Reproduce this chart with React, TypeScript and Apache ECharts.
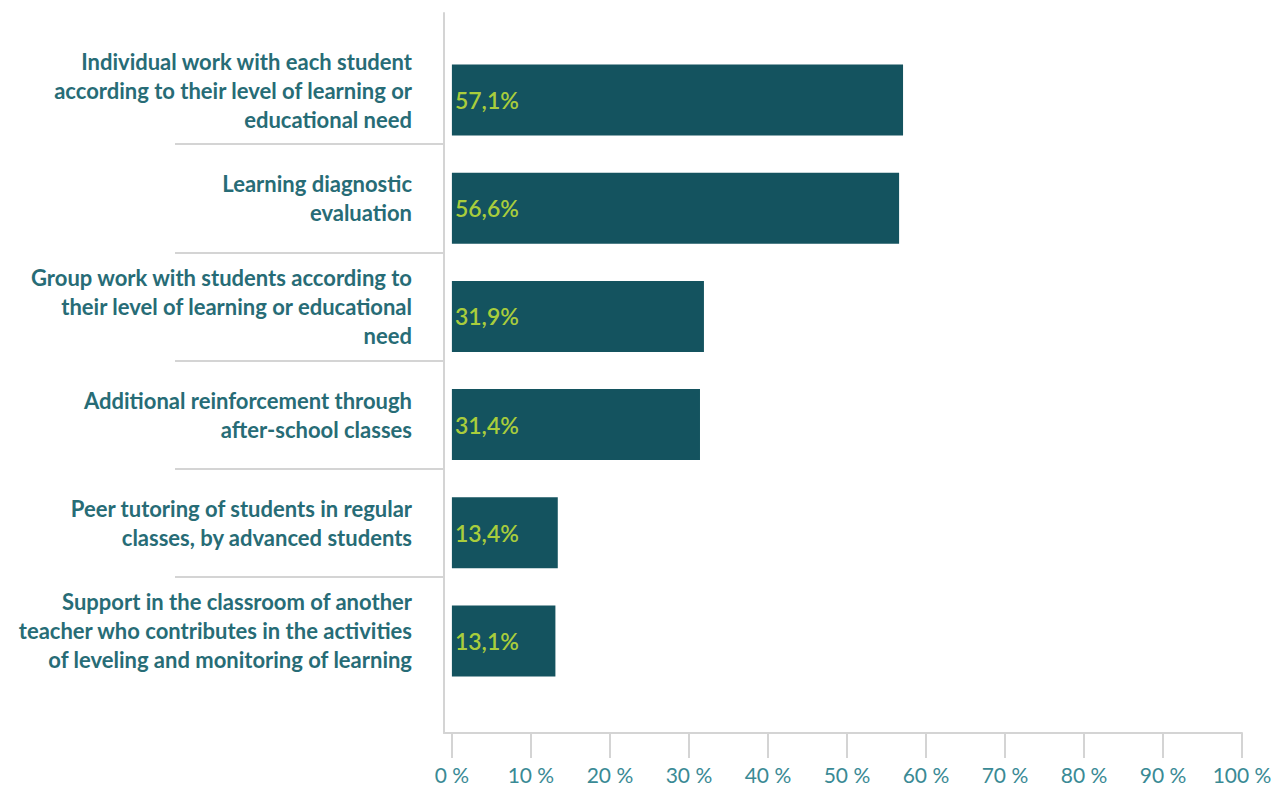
import React, { useEffect, useRef } from "react";
import * as echarts from "echarts";

const categories = [
  "Individual work with each student\naccording to their level of learning or\neducational need",
  "Learning diagnostic\nevaluation",
  "Group work with students according to\ntheir level of learning or educational\nneed",
  "Additional reinforcement through\nafter-school classes",
  "Peer tutoring of students in regular\nclasses, by advanced students",
  "Support in the classroom of another\nteacher who contributes in the activities\nof leveling and monitoring of learning",
];
const values = [57.1, 56.6, 31.9, 31.4, 13.4, 13.1];
const tickValues = [0, 10, 20, 30, 40, 50, 60, 70, 80, 90, 100];
const separatorValues = [1, 2, 3, 4, 5];

const BAR = "#14535f";
const LINE = "#d4d4d4";

export default function App() {
  const ref = useRef<HTMLDivElement>(null);
  useEffect(() => {
    if (!ref.current) return;
    const chart = echarts.init(ref.current, undefined, { renderer: "svg" });
    chart.setOption({
      animation: false,
      backgroundColor: "#ffffff",
      grid: [
        { left: 444, right: 43, top: 13, bottom: 56 },
        { left: 444, right: 43, top: 46, bottom: 94 },
        { left: 444, right: 43, top: 36, bottom: 104 },
      ],
      xAxis: [
        {
          gridIndex: 0,
          type: "value",
          min: -1,
          max: 100,
          splitLine: { show: false },
          axisLine: { show: true, onZero: false, lineStyle: { color: LINE, width: 2 } },
          axisTick: {
            show: true,
            customValues: tickValues,
            length: 25,
            lineStyle: { color: LINE, width: 2 },
          },
          axisLabel: {
            customValues: tickValues,
            formatter: (v: number) => `${v} %`,
            color: "#3a8a95",
            fontFamily: "Lato",
            fontSize: 21,
            margin: 31,
          },
        },
        { gridIndex: 1, type: "value", min: -1, max: 100, show: false },
        { gridIndex: 2, type: "value", min: -1, max: 100, show: false },
      ],
      yAxis: [
        {
          gridIndex: 0,
          type: "value",
          position: "left",
          axisLine: { show: true, onZero: false, lineStyle: { color: LINE, width: 2 } },
          axisTick: { show: false },
          axisLabel: { show: false },
          splitLine: { show: false },
        },
        {
          gridIndex: 1,
          type: "category",
          inverse: true,
          data: categories,
          show: false,
        },
        {
          gridIndex: 2,
          type: "category",
          position: "left",
          inverse: true,
          data: categories,
          axisLine: { show: false },
          axisTick: { show: false },
          axisLabel: {
            margin: 32,
            color: "#276c76",
            fontFamily: "Lato",
            fontWeight: "bold",
            fontSize: 22,
            lineHeight: 29,
            align: "right",
          },
        },
        {
          gridIndex: 2,
          type: "value",
          position: "left",
          min: 0,
          max: 6,
          inverse: true,
          axisLine: { show: false, onZero: false },
          axisLabel: { show: false },
          splitLine: { show: false },
          axisTick: {
            show: true,
            customValues: separatorValues,
            length: 269,
            lineStyle: { color: LINE, width: 2 },
          },
        },
      ],
      series: [
        {
          type: "bar",
          xAxisIndex: 1,
          yAxisIndex: 1,
          data: values,
          barWidth: 71,
          itemStyle: { color: BAR },
          label: {
            show: true,
            position: "insideLeft",
            distance: 3,
            formatter: (p: any) => `${p.value.toFixed(1).replace(".", ",")}%`,
            color: "#a9cd3c",
            fontFamily: "Lato",
            fontWeight: 600,
            fontSize: 23,
          },
        },
      ],
    });
    return () => chart.dispose();
  }, []);
  return (
    <div
      ref={ref}
      style={{ position: "fixed", left: 0, top: 0, width: 1285, height: 789 }}
    />
  );
}
